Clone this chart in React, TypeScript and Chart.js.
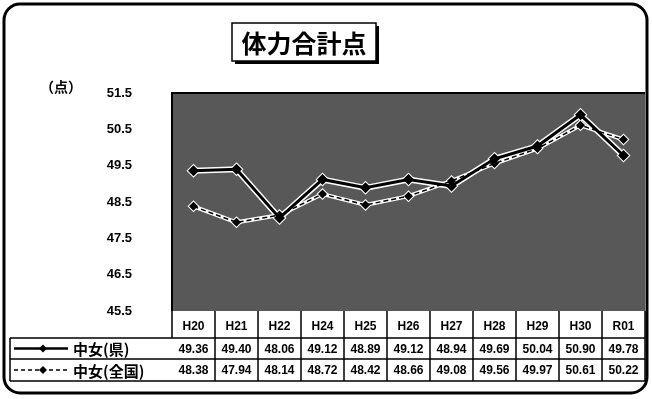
import React, { useEffect, useRef } from "react";
import { Chart, registerables } from "chart.js";
Chart.register(...registerables);

const categories = ["H20", "H21", "H22", "H24", "H25", "H26", "H27", "H28", "H29", "H30", "R01"];
const prefValues = [49.36, 49.40, 48.06, 49.12, 48.89, 49.12, 48.94, 49.69, 50.04, 50.90, 49.78];
const nationalValues = [48.38, 47.94, 48.14, 48.72, 48.42, 48.66, 49.08, 49.56, 49.97, 50.61, 50.22];
const seriesNames = ["中女(県)", "中女(全国)"];
const titleText = "体力合計点";
const unitLabel = "（点）";
const yMin = 45.5;
const yMax = 51.5;
const yStep = 1;

const NUM_FONT = "bold 12px 'Liberation Sans', Arial, sans-serif";
const JP_FONT = "bold 15px 'Noto Sans CJK JP', sans-serif";

const decorPlugin = {
  id: "decor",
  beforeDraw(chart: any) {
    const { ctx, chartArea: a } = chart;
    ctx.save();
    ctx.fillStyle = "#ffffff";
    ctx.fillRect(0, 0, chart.width, chart.height);
    ctx.fillStyle = "#585858";
    ctx.fillRect(a.left, a.top, a.right - a.left, a.bottom - a.top);
    ctx.restore();
  },
  afterDraw(chart: any) {
    const { ctx, chartArea: a } = chart;
    const xs = chart.scales.x;
    ctx.save();
    // plot border
    ctx.strokeStyle = "#000";
    ctx.lineWidth = 2;
    ctx.beginPath();
    ctx.moveTo(a.left, a.bottom);
    ctx.lineTo(a.left, a.top);
    ctx.lineTo(a.right, a.top);
    ctx.stroke();

    // title box
    const tx = 232, ty = 23, tw = 144, th = 38;
    ctx.fillStyle = "#000";
    ctx.fillRect(tx + 3, ty + 3, tw, th);
    ctx.fillStyle = "#fff";
    ctx.fillRect(tx, ty, tw, th);
    ctx.lineWidth = 1.5;
    ctx.strokeRect(tx, ty, tw, th);
    ctx.fillStyle = "#000";
    ctx.font = "bold 25px 'Noto Sans CJK JP', sans-serif";
    ctx.textAlign = "center";
    ctx.textBaseline = "middle";
    ctx.fillText(titleText, tx + tw / 2, ty + th / 2 + 1);

    // unit label
    ctx.font = "bold 14px 'Noto Sans CJK JP', sans-serif";
    ctx.textAlign = "left";
    ctx.fillText(unitLabel, 40, 87);

    // data table
    const step = xs.getPixelForValue(1) - xs.getPixelForValue(0);
    const half = step / 2;
    const headTop = a.bottom;
    const headBot = headTop + 27;
    const r1Bot = headBot + 21;
    const r2Bot = r1Bot + 22;
    const labelLeft = 10;
    const tableLeft = xs.getPixelForValue(0) - half;
    const tableRight = xs.getPixelForValue(categories.length - 1) + half;
    ctx.lineWidth = 1.5;
    ctx.strokeStyle = "#000";
    ctx.beginPath();
    ctx.moveTo(tableLeft, headBot);
    ctx.lineTo(tableLeft, headTop);
    ctx.moveTo(labelLeft, headBot);
    ctx.lineTo(tableRight, headBot);
    ctx.moveTo(labelLeft, r1Bot);
    ctx.lineTo(tableRight, r1Bot);
    ctx.moveTo(labelLeft, r2Bot);
    ctx.lineTo(tableRight, r2Bot);
    ctx.moveTo(labelLeft, headBot);
    ctx.lineTo(labelLeft, r2Bot);
    for (let i = 0; i < categories.length; i++) {
      const xr = xs.getPixelForValue(i) + half;
      ctx.moveTo(xr, headTop);
      ctx.lineTo(xr, r2Bot);
    }
    ctx.stroke();

    ctx.fillStyle = "#000";
    ctx.textAlign = "center";
    ctx.textBaseline = "middle";
    ctx.font = NUM_FONT;
    categories.forEach((c, i) => {
      const cx = xs.getPixelForValue(i);
      ctx.fillText(c, cx, (headTop + headBot) / 2 + 2);
      ctx.fillText(prefValues[i].toFixed(2), cx, (headBot + r1Bot) / 2 + 1);
      ctx.fillText(nationalValues[i].toFixed(2), cx, (r1Bot + r2Bot) / 2 + 1);
    });

    // legend samples
    const drawDiamond = (x: number, y: number, r: number) => {
      ctx.beginPath();
      ctx.moveTo(x, y - r);
      ctx.lineTo(x + r, y);
      ctx.lineTo(x, y + r);
      ctx.lineTo(x - r, y);
      ctx.closePath();
      ctx.fill();
    };
    const y1 = (headBot + r1Bot) / 2;
    const y2 = (r1Bot + r2Bot) / 2;
    ctx.lineWidth = 2.5;
    ctx.setLineDash([]);
    ctx.beginPath();
    ctx.moveTo(14, y1);
    ctx.lineTo(68, y1);
    ctx.stroke();
    drawDiamond(43, y1, 4);
    ctx.lineWidth = 1.5;
    ctx.setLineDash([4, 3]);
    ctx.beginPath();
    ctx.moveTo(14, y2);
    ctx.lineTo(68, y2);
    ctx.stroke();
    ctx.setLineDash([]);
    drawDiamond(43, y2, 4);
    ctx.font = JP_FONT;
    ctx.textAlign = "left";
    ctx.fillText(seriesNames[0], 73, y1 + 1);
    ctx.fillText(seriesNames[1], 73, y2 + 1);

    // outer rounded border
    ctx.lineWidth = 3;
    ctx.beginPath();
    ctx.roundRect(4, 4, 643, 389, 16);
    ctx.stroke();
    ctx.restore();
  },
};

export default function App() {
  const ref = useRef<HTMLCanvasElement>(null);
  useEffect(() => {
    document.body.style.margin = "0";
    const chart = new Chart(ref.current!, {
      type: "line",
      data: {
        labels: categories,
        datasets: [
          {
            label: "halo1",
            data: prefValues,
            borderColor: "#ffffff",
            backgroundColor: "#ffffff",
            borderWidth: 6,
            pointStyle: "rectRot",
            pointRadius: 7,
            pointBorderWidth: 0,
            order: 4,
          },
          {
            label: "halo2",
            data: nationalValues,
            borderColor: "#ffffff",
            backgroundColor: "#ffffff",
            borderWidth: 4,
            pointStyle: "rectRot",
            pointRadius: 6,
            pointBorderWidth: 0,
            order: 3,
          },
          {
            label: seriesNames[1],
            data: nationalValues,
            borderColor: "#000000",
            backgroundColor: "#000000",
            borderWidth: 1.5,
            borderDash: [5, 3],
            pointStyle: "rectRot",
            pointRadius: 4.5,
            pointBorderWidth: 0,
            order: 2,
          },
          {
            label: seriesNames[0],
            data: prefValues,
            borderColor: "#000000",
            backgroundColor: "#000000",
            borderWidth: 3,
            pointStyle: "rectRot",
            pointRadius: 5.5,
            pointBorderWidth: 0,
            order: 1,
          },
        ],
      },
      options: {
        responsive: false,
        animation: false,
        layout: { padding: { left: 60, right: 2, top: 93, bottom: 88 } },
        plugins: { legend: { display: false }, tooltip: { enabled: false } },
        scales: {
          x: { display: false, offset: true },
          y: {
            min: yMin,
            max: yMax,
            afterFit: (s: any) => {
              s.width = 112;
            },
            border: { display: false },
            grid: { display: false, drawTicks: false },
            ticks: {
              stepSize: yStep,
              padding: 40,
              color: "#000",
              font: { family: "'Liberation Sans', Arial, sans-serif", size: 13, weight: "bold" },
              callback: (v: any) => Number(v).toFixed(1),
            },
          },
        },
      },
      plugins: [decorPlugin],
    });
    return () => chart.destroy();
  }, []);
  return (
    <div style={{ width: 652, height: 399 }}>
      <canvas ref={ref} width={652} height={399} />
    </div>
  );
}
